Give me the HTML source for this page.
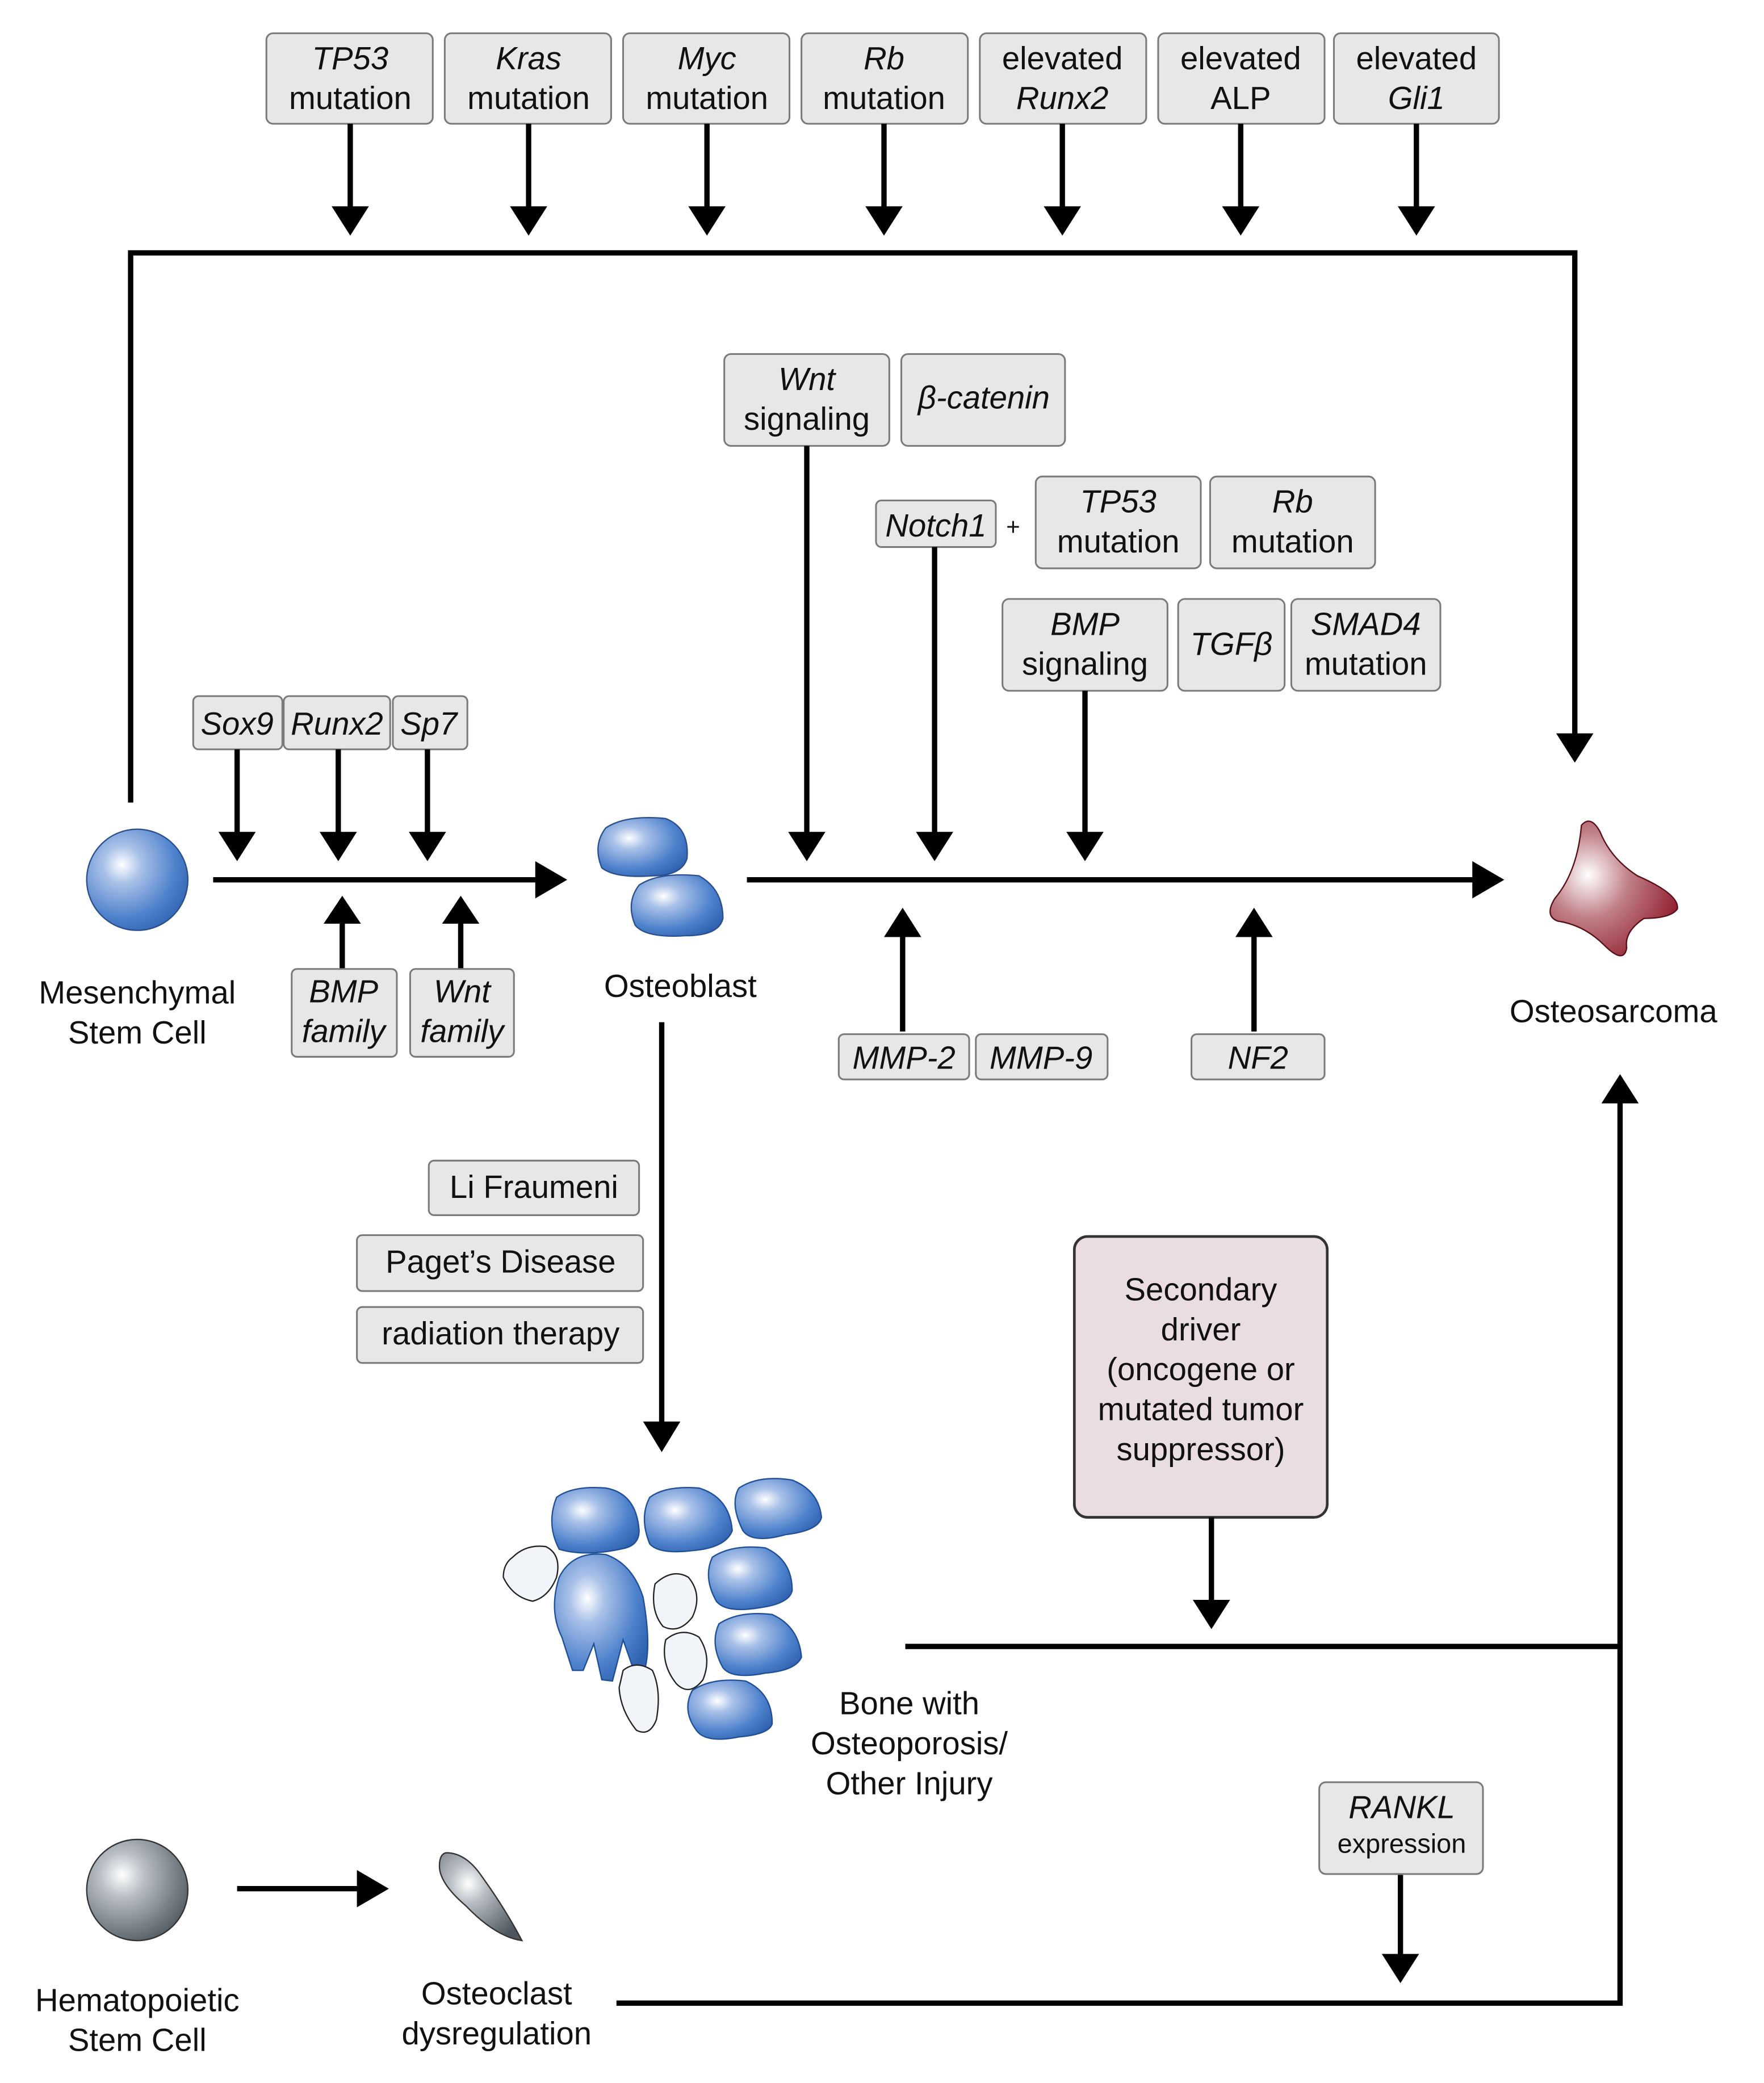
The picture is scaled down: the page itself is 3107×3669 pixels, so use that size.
<!DOCTYPE html>
<html><head><meta charset="utf-8"><style>html,body{margin:0;padding:0;background:#fff}svg{display:block}svg text{font-family:"Liberation Sans",Arial,sans-serif}</style></head>
<body>
<svg width="3107" height="3669" viewBox="0 0 1325 1565" xmlns="http://www.w3.org/2000/svg" font-size="24" fill="#111">
<defs>
<radialGradient id="blue" cx="0.35" cy="0.35" r="0.75"><stop offset="0" stop-color="#fff"/><stop offset="0.25" stop-color="#a9c1e8"/><stop offset="0.7" stop-color="#4f82cc"/><stop offset="1" stop-color="#2f62b0"/></radialGradient>
<radialGradient id="grey" cx="0.35" cy="0.35" r="0.75"><stop offset="0" stop-color="#fff"/><stop offset="0.3" stop-color="#b8bec4"/><stop offset="1" stop-color="#4d565e"/></radialGradient>
<radialGradient id="red" cx="0.3" cy="0.4" r="0.8"><stop offset="0" stop-color="#fff"/><stop offset="0.4" stop-color="#c07f86"/><stop offset="1" stop-color="#8c1226"/></radialGradient>
</defs>
<style>
.b{fill:#e6e7e8;stroke:#7a7a7a;stroke-width:1.3}
.l{stroke:#000;stroke-width:4;fill:none}
.t{text-anchor:middle}
.i{font-style:italic}
</style>

<g>
<rect class="b" x="200" y="25" width="125" height="68" rx="5"/><text class="t i" x="263" y="52">TP53</text><text class="t" x="263" y="82">mutation</text>
<rect class="b" x="334" y="25" width="125" height="68" rx="5"/><text class="t i" x="397" y="52">Kras</text><text class="t" x="397" y="82">mutation</text>
<rect class="b" x="468" y="25" width="125" height="68" rx="5"/><text class="t i" x="531" y="52">Myc</text><text class="t" x="531" y="82">mutation</text>
<rect class="b" x="602" y="25" width="125" height="68" rx="5"/><text class="t i" x="664" y="52">Rb</text><text class="t" x="664" y="82">mutation</text>
<rect class="b" x="736" y="25" width="125" height="68" rx="5"/><text class="t" x="798" y="52">elevated</text><text class="t i" x="798" y="82">Runx2</text>
<rect class="b" x="870" y="25" width="125" height="68" rx="5"/><text class="t" x="932" y="52">elevated</text><text class="t" x="932" y="82">ALP</text>
<rect class="b" x="1002" y="25" width="124" height="68" rx="5"/><text class="t" x="1064" y="52">elevated</text><text class="t i" x="1064" y="82">Gli1</text>
</g>
<g class="l">
<line x1="263" y1="93" x2="263" y2="160"/><line x1="397" y1="93" x2="397" y2="160"/><line x1="531" y1="93" x2="531" y2="160"/><line x1="664" y1="93" x2="664" y2="160"/><line x1="798" y1="93" x2="798" y2="160"/><line x1="932" y1="93" x2="932" y2="160"/><line x1="1064" y1="93" x2="1064" y2="160"/>
<polyline points="98,603 98,190 1183,190 1183,555"/>
</g>
<g fill="#000">
<polygon points="249,155 277,155 263,177"/><polygon points="383,155 411,155 397,177"/><polygon points="517,155 545,155 531,177"/><polygon points="650,155 678,155 664,177"/><polygon points="784,155 812,155 798,177"/><polygon points="918,155 946,155 932,177"/><polygon points="1050,155 1078,155 1064,177"/>
<polygon points="1169,551 1197,551 1183,573"/>
</g>

<rect class="b" x="544" y="266" width="124" height="69" rx="5"/><text class="t i" x="606" y="293">Wnt</text><text class="t" x="606" y="323">signaling</text>
<rect class="b" x="677" y="266" width="123" height="69" rx="5"/><text class="t i" x="739" y="307">β-catenin</text>
<rect class="b" x="658" y="376" width="90" height="35" rx="4"/><text class="t i" x="703" y="403">Notch1</text>
<text class="t" x="761" y="402" font-size="18">+</text>
<rect class="b" x="778" y="358" width="124" height="69" rx="5"/><text class="t i" x="840" y="385">TP53</text><text class="t" x="840" y="415">mutation</text>
<rect class="b" x="909" y="358" width="124" height="69" rx="5"/><text class="t i" x="971" y="385">Rb</text><text class="t" x="971" y="415">mutation</text>
<rect class="b" x="753" y="450" width="124" height="69" rx="5"/><text class="t i" x="815" y="477">BMP</text><text class="t" x="815" y="507">signaling</text>
<rect class="b" x="885" y="450" width="80" height="69" rx="5"/><text class="t i" x="925" y="492">TGFβ</text>
<rect class="b" x="970" y="450" width="112" height="69" rx="5"/><text class="t i" x="1026" y="477">SMAD4</text><text class="t" x="1026" y="507">mutation</text>
<g class="l">
<line x1="606" y1="335" x2="606" y2="630"/><line x1="702" y1="411" x2="702" y2="630"/><line x1="815" y1="519" x2="815" y2="630"/>
<line x1="561" y1="661" x2="1110" y2="661"/>
<line x1="678" y1="775" x2="678" y2="700"/><line x1="942" y1="775" x2="942" y2="700"/>
</g>
<g fill="#000">
<polygon points="592,625 620,625 606,647"/><polygon points="688,625 716,625 702,647"/><polygon points="801,625 829,625 815,647"/>
<polygon points="1106,647 1106,675 1130,661"/>
<polygon points="664,704 692,704 678,682"/><polygon points="928,704 956,704 942,682"/>
</g>
<rect class="b" x="630" y="777" width="98" height="34" rx="4"/><text class="t i" x="679" y="803">MMP-2</text>
<rect class="b" x="733" y="777" width="99" height="34" rx="4"/><text class="t i" x="782" y="803">MMP-9</text>
<rect class="b" x="895" y="777" width="100" height="34" rx="4"/><text class="t i" x="945" y="803">NF2</text>

<circle cx="103" cy="661" r="38" fill="url(#blue)" stroke="#2a4f8f" stroke-width="1"/>
<text class="t" x="103" y="754">Mesenchymal</text><text class="t" x="103" y="784">Stem Cell</text>
<rect class="b" x="145" y="523" width="67" height="40" rx="4"/><text class="t i" x="178" y="552">Sox9</text>
<rect class="b" x="213" y="523" width="80" height="40" rx="4"/><text class="t i" x="253" y="552">Runx2</text>
<rect class="b" x="295" y="523" width="56" height="40" rx="4"/><text class="t i" x="322" y="552">Sp7</text>
<g class="l">
<line x1="178" y1="563" x2="178" y2="630"/><line x1="254" y1="563" x2="254" y2="630"/><line x1="321" y1="563" x2="321" y2="630"/>
<line x1="160" y1="661" x2="405" y2="661"/>
<line x1="257" y1="728" x2="257" y2="690"/><line x1="346" y1="728" x2="346" y2="690"/>
</g>
<g fill="#000">
<polygon points="164,625 192,625 178,647"/><polygon points="240,625 268,625 254,647"/><polygon points="307,625 335,625 321,647"/>
<polygon points="402,647 402,675 426,661"/>
<polygon points="243,694 271,694 257,673"/><polygon points="332,694 360,694 346,673"/>
</g>
<rect class="b" x="219" y="728" width="79" height="66" rx="4"/><text class="t i" x="258" y="753">BMP</text><text class="t i" x="258" y="783">family</text>
<rect class="b" x="308" y="728" width="78" height="66" rx="4"/><text class="t i" x="347" y="753">Wnt</text><text class="t i" x="347" y="783">family</text>

<path d="M455,622 Q470,612 500,615 Q518,622 516,645 Q512,658 490,658 Q462,660 452,652 Q445,635 455,622Z" fill="url(#blue)" stroke="#2a4f8f" stroke-width="1"/>
<path d="M480,665 Q495,655 525,658 Q543,668 543,690 Q540,703 515,703 Q485,705 477,695 Q470,678 480,665Z" fill="url(#blue)" stroke="#2a4f8f" stroke-width="1"/>
<text class="t" x="511" y="749">Osteoblast</text>
<line class="l" x1="497" y1="768" x2="497" y2="1072"/>
<polygon points="483,1068 511,1068 497,1091" fill="#000"/>
<rect class="b" x="322" y="872" width="158" height="41" rx="4"/><text class="t" x="401" y="900">Li Fraumeni</text>
<rect class="b" x="268" y="928" width="215" height="42" rx="4"/><text class="t" x="376" y="956">Paget’s Disease</text>
<rect class="b" x="268" y="982" width="215" height="42" rx="4"/><text class="t" x="376" y="1010">radiation therapy</text>

<g stroke="#1f4f96" stroke-width="1" fill="url(#blue)">
<path d="M418,1125 Q430,1116 455,1118 Q478,1122 480,1150 Q480,1160 470,1163 Q440,1170 420,1164 Q410,1145 418,1125Z"/>
<path d="M488,1125 Q500,1116 525,1118 Q548,1125 550,1150 Q545,1163 520,1165 Q495,1168 488,1160 Q480,1140 488,1125Z"/>
<path d="M555,1118 Q570,1108 595,1112 Q615,1120 617,1140 Q615,1150 590,1153 Q565,1160 558,1150 Q548,1130 555,1118Z"/>
<path d="M535,1170 Q550,1160 575,1163 Q595,1172 595,1195 Q593,1205 570,1208 Q545,1212 538,1203 Q528,1185 535,1170Z"/>
<path d="M540,1220 Q555,1210 580,1213 Q600,1222 602,1245 Q598,1255 575,1257 Q550,1262 543,1253 Q533,1235 540,1220Z"/>
<path d="M520,1270 Q535,1260 560,1263 Q580,1272 580,1295 Q578,1303 555,1305 Q530,1310 523,1300 Q512,1285 520,1270Z"/>
<path d="M420,1185 Q430,1165 455,1168 Q475,1175 483,1200 Q490,1240 483,1258 L475,1252 L468,1232 L460,1263 L452,1262 L446,1235 L438,1255 L430,1255 L422,1230 Q412,1210 420,1185Z"/>
</g>
<g stroke="#222" stroke-width="1" fill="#f1f5f9">
<path d="M385,1170 Q395,1160 410,1162 Q422,1168 418,1185 Q412,1200 400,1203 Q385,1200 378,1185 Q378,1175 385,1170Z"/>
<path d="M492,1190 Q505,1178 517,1185 Q528,1198 520,1215 Q510,1228 498,1222 Q488,1210 492,1190Z"/>
<path d="M500,1232 Q512,1222 525,1230 Q535,1245 528,1262 Q518,1275 508,1265 Q496,1250 500,1232Z"/>
<path d="M468,1255 Q478,1247 490,1255 Q497,1270 493,1292 Q488,1305 478,1300 Q466,1285 465,1268Z"/>
</g>
<text class="t" x="683" y="1288">Bone with</text><text class="t" x="683" y="1318">Osteoporosis/</text><text class="t" x="683" y="1348">Other Injury</text>

<rect x="807" y="929" width="190" height="211" rx="10" fill="#e9dde1" stroke="#333" stroke-width="2"/>
<text class="t" x="902" y="977">Secondary</text><text class="t" x="902" y="1007">driver</text><text class="t" x="902" y="1037">(oncogene or</text><text class="t" x="902" y="1067">mutated tumor</text><text class="t" x="902" y="1097">suppressor)</text>
<g class="l">
<line x1="910" y1="1140" x2="910" y2="1206"/>
<line x1="680" y1="1237" x2="1217" y2="1237"/>
<polyline points="463,1505 1217,1505 1217,825"/>
<line x1="1052" y1="1408" x2="1052" y2="1472"/>
<line x1="178" y1="1419" x2="272" y2="1419"/>
</g>
<g fill="#000">
<polygon points="896,1202 924,1202 910,1224"/>
<polygon points="1203,829 1231,829 1217,807"/>
<polygon points="1038,1468 1066,1468 1052,1490"/>
<polygon points="268,1405 268,1433 292,1419"/>
</g>

<path d="M1188,620 Q1195,612 1202,625 Q1210,645 1230,658 Q1262,672 1260,683 Q1255,690 1235,690 Q1220,700 1222,712 Q1220,725 1205,710 Q1190,695 1170,692 Q1160,688 1168,675 Q1185,655 1188,620Z" fill="url(#red)" stroke="#5a0f18" stroke-width="1"/>
<text class="t" x="1212" y="768">Osteosarcoma</text>

<rect class="b" x="991" y="1339" width="123" height="69" rx="5"/><text class="t i" x="1053" y="1366">RANKL</text><text class="t" x="1053" y="1392" font-size="20">expression</text>

<circle cx="103" cy="1420" r="38" fill="url(#grey)" stroke="#333" stroke-width="1"/>
<text class="t" x="103" y="1511">Hematopoietic</text><text class="t" x="103" y="1541">Stem Cell</text>
<path d="M335,1392 Q350,1392 362,1410 Q380,1435 392,1458 Q372,1455 350,1432 Q330,1415 330,1402 Q330,1393 335,1392Z" fill="url(#grey)" stroke="#333" stroke-width="1"/>
<text class="t" x="373" y="1506">Osteoclast</text><text class="t" x="373" y="1536">dysregulation</text>
</svg>
</body></html>
